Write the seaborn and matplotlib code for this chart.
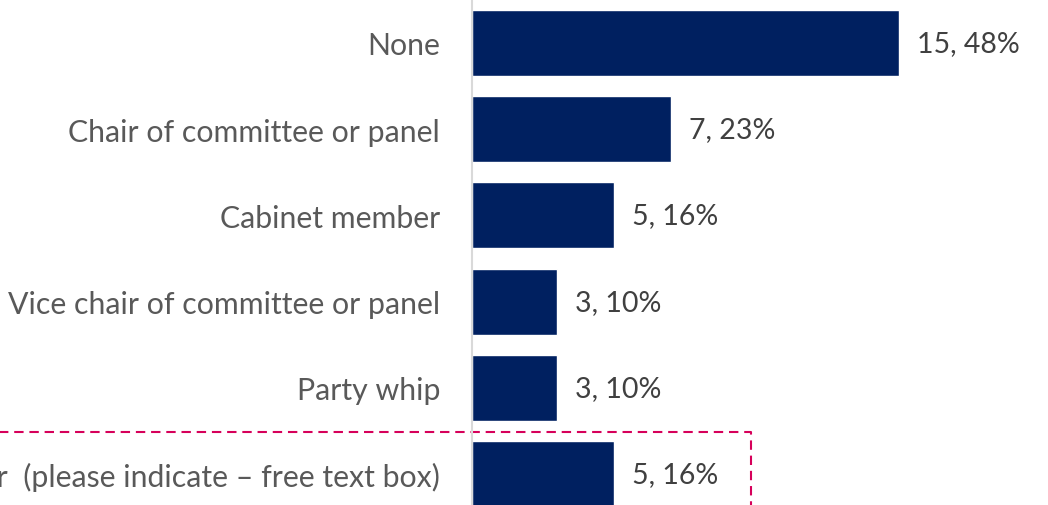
import matplotlib
matplotlib.use("Agg")
import matplotlib.pyplot as plt
import seaborn as sns
import pandas as pd

# Survey responses: positions held
categories = [
    "None",
    "Chair of committee or panel",
    "Cabinet member",
    "Vice chair of committee or panel",
    "Party whip",
    "Other  (please indicate \u2013 free text box)",
]
counts = [15, 7, 5, 3, 3, 5]
percents = [48, 23, 16, 10, 10, 16]

sns.set_theme(style="white")
plt.rcParams["font.family"] = ["Lato", "DejaVu Sans"]

df = pd.DataFrame({"position": categories, "count": counts})

fig = plt.figure(figsize=(10.48, 5.06), dpi=100)
ax = fig.add_axes([472 / 1048, 0, 576 / 1048, 1])

sns.barplot(data=df, y="position", x="count", orient="h", color="#002060",
            width=0.766, saturation=1, ax=ax)

ax.set_xlim(0, 20.23)
ax.set_ylim(5.36, -0.51)
ax.set_xlabel("")
ax.set_ylabel("")
ax.set_xticks([])

for s in ["top", "right", "bottom"]:
    ax.spines[s].set_visible(False)
ax.spines["left"].set_color("#D9D9D9")
ax.spines["left"].set_linewidth(1.5)

ax.tick_params(axis="y", length=0, pad=23, labelsize=21.8, labelcolor="#595959")

labels = [f"{c}, {p}%" for c, p in zip(counts, percents)]
ax.bar_label(ax.containers[0], labels=labels, padding=13, fontsize=20.5,
             color="#404040")

# Highlight box around the free-text category
ax.plot([-30, 9.8, 9.8], [4.513, 4.513, 5.6], color="#D6005A", lw=1.5,
        ls=(0, (4.5, 2.8)), clip_on=False)

fig.savefig("out.png", dpi=100)
